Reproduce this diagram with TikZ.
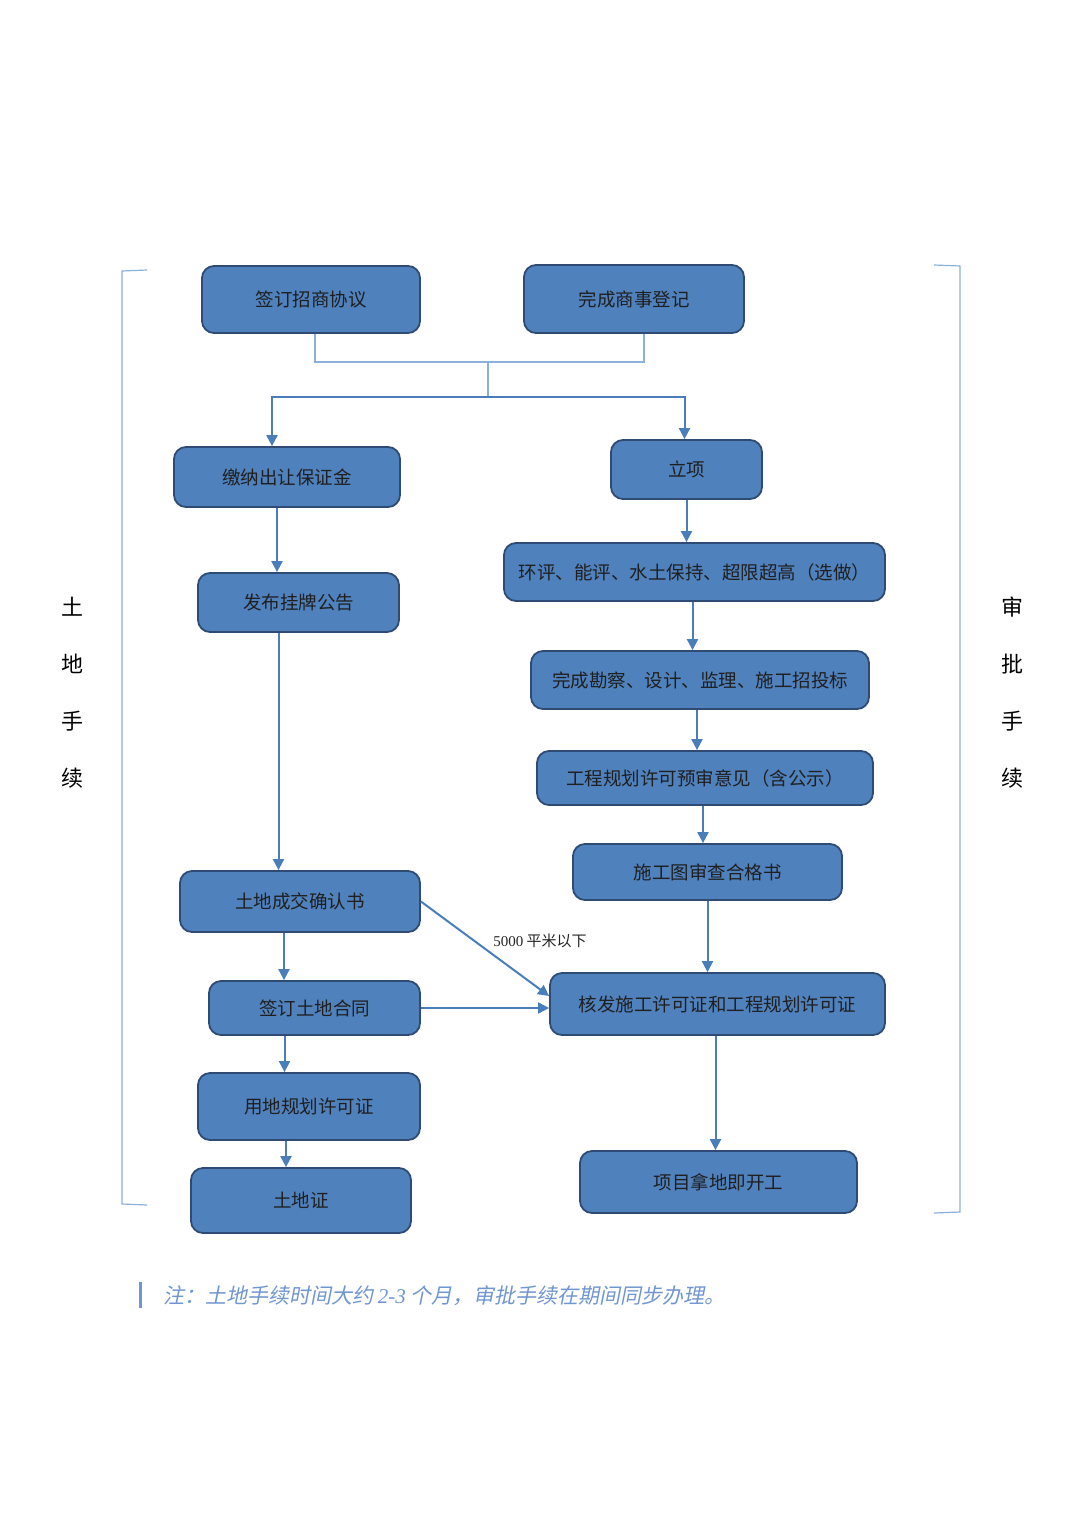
\documentclass[tikz,border=0pt]{standalone}
\usepackage{fontspec}
\setmainfont{Noto Sans CJK SC}
\newfontfamily\latinfont{Liberation Serif}
\newfontfamily\notefont{Noto Sans CJK SC}[FakeSlant=0.2]
\usetikzlibrary{arrows.meta}

\definecolor{boxfill}{HTML}{4F81BD}
\definecolor{boxline}{HTML}{2F4B73}
\definecolor{arrowblue}{HTML}{4A7EBB}
\definecolor{treeblue}{HTML}{8CB0DC}
\definecolor{noteblue}{HTML}{7096D1}

\tikzset{
  box/.style={draw=boxline, fill=boxfill, line width=1.8pt, rounded corners=12pt,
    text=black!88, font=\fontsize{18.5}{22}\selectfont, inner sep=0pt},
  arr/.style={draw=arrowblue, line width=2pt, -{Triangle[length=11pt,width=11pt]}},
  tree/.style={draw=treeblue, line width=1.4pt},
  bracket/.style={draw=treeblue, line width=1.2pt},
  side/.style={font=\fontsize{22}{57}\selectfont, align=center, inner sep=0pt},
}

\begin{document}
\begin{tikzpicture}[x=1pt,y=-1pt]
\fill[white] (0,0) rectangle (1080,1528);
\useasboundingbox (0,0) rectangle (1080,1528);

% left column
\node[box, minimum width=218pt, minimum height=67pt] (sign) at (311,299.5) {签订招商协议};
\node[box, minimum width=226pt, minimum height=60pt] (deposit) at (287,477) {缴纳出让保证金};
\node[box, minimum width=201pt, minimum height=59pt] (notice) at (298.5,602.5) {发布挂牌公告};
\node[box, minimum width=240pt, minimum height=61pt] (deal) at (300,901.5) {土地成交确认书};
\node[box, minimum width=211pt, minimum height=54pt] (contract) at (314.5,1008) {签订土地合同};
\node[box, minimum width=222pt, minimum height=67pt] (landplan) at (309,1106.5) {用地规划许可证};
\node[box, minimum width=220pt, minimum height=65pt] (cert) at (301,1200.5) {土地证};

% right column
\node[box, minimum width=220pt, minimum height=68pt] (reg) at (634,299) {完成商事登记};
\node[box, minimum width=151pt, minimum height=59pt] (proj) at (686.5,469.5) {立项};
\node[box, minimum width=381pt, minimum height=58pt] (eval) at (694.5,572) {环评、能评、水土保持、超限超高（选做）};
\node[box, minimum width=338pt, minimum height=58pt] (survey) at (700,680) {完成勘察、设计、监理、施工招投标};
\node[box, minimum width=336pt, minimum height=54pt] (prereview) at (705,778) {工程规划许可预审意见（含公示）};
\node[box, minimum width=269pt, minimum height=56pt] (drawing) at (707.5,872) {施工图审查合格书};
\node[box, minimum width=335pt, minimum height=62pt] (permit) at (717.5,1004) {核发施工许可证和工程规划许可证};
\node[box, minimum width=277pt, minimum height=62pt] (start) at (718.5,1182) {项目拿地即开工};

% joining lines at the top
\coordinate (join) at (488,362);
\coordinate (split) at (488,397);
\draw[tree] ([xshift=4pt]sign.south) |- (join) -| ([xshift=10pt]reg.south);
\draw[tree] (join) -- (split);
\draw[arr] (split) -| ([xshift=-15pt]deposit.north);
\draw[arr] (split) -| ([xshift=-2pt]proj.north);

% arrows
\draw[arr] ([xshift=-10pt]deposit.south) -- ([xshift=-10pt]deposit.south |- notice.north);
\draw[arr] ([xshift=-20pt]notice.south) -- ([xshift=-20pt]notice.south |- deal.north);
\draw[arr] ([xshift=-16pt]deal.south) -- ([xshift=-16pt]deal.south |- contract.north);
\draw[arr] ([xshift=-30pt]contract.south) -- ([xshift=-30pt]contract.south |- landplan.north);
\draw[arr] ([xshift=-23pt]landplan.south) -- ([xshift=-23pt]landplan.south |- cert.north);
\draw[arr] (proj.south) -- (proj.south |- eval.north);
\draw[arr] ([xshift=-2pt]eval.south) -- ([xshift=-2pt]eval.south |- survey.north);
\draw[arr] ([xshift=-3pt]survey.south) -- ([xshift=-3pt]survey.south |- prereview.north);
\draw[arr] ([xshift=-2pt]prereview.south) -- ([xshift=-2pt]prereview.south |- drawing.north);
\draw[arr] (drawing.south) -- (drawing.south |- permit.north);
\draw[arr] ([xshift=-2pt]permit.south) -- ([xshift=-2pt]permit.south |- start.north);
\draw[arr] (deal.east) -- ([yshift=8pt]permit.west);
\draw[arr] (contract.east) -- (contract.east -| permit.west);
\node[font=\fontsize{15}{18}\selectfont, text=black!85] (small) at (540,941) {{\latinfont 5000} 平米以下};

% brackets and side labels
\draw[bracket] (147,270) -- (122,271) -- (122,1204) -- (147,1205);
\draw[bracket] (934,265) -- (960,266) -- (960,1212) -- (934,1213);
\node[side] (land) at (72,692.5) {土\\地\\手\\续};
\node[side] (approve) at (1012,692.5) {审\\批\\手\\续};

% note
\draw[noteblue, line width=3pt] (140,1282) -- (140,1308);
\node[anchor=west, text=noteblue, inner sep=0pt, font=\notefont\fontsize{21}{24}\selectfont] (note) at (163,1296)
  {注：土地手续时间大约 {\latinfont\itshape 2-3} 个月，审批手续在期间同步办理。};
\end{tikzpicture}
\end{document}
